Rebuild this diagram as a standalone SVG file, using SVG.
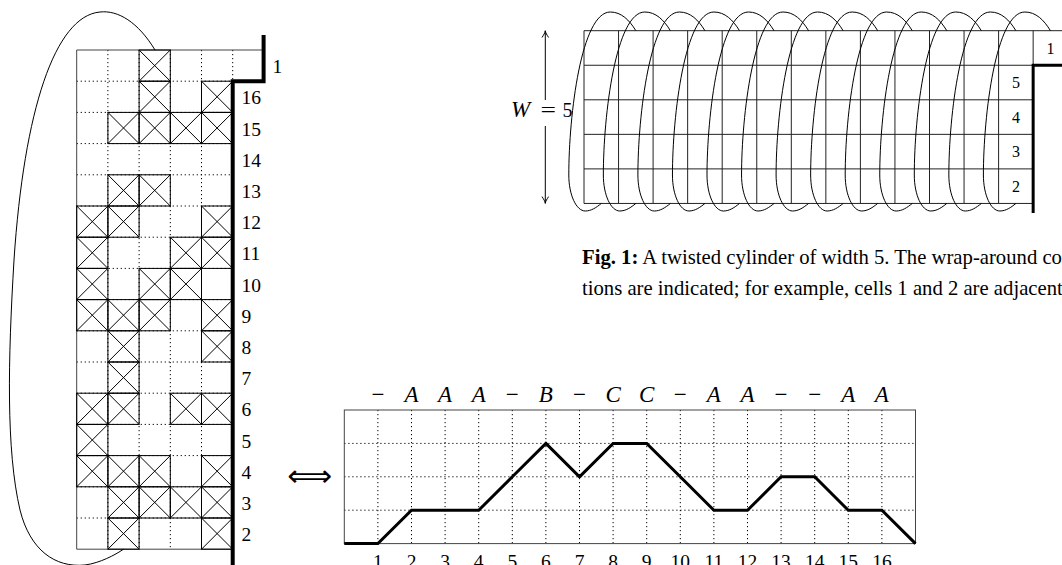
<svg xmlns="http://www.w3.org/2000/svg" width="1062" height="565" viewBox="0 0 1062 565">
<style>
.dot{stroke:#000;stroke-width:1;stroke-dasharray:1.2 2.8;fill:none}
.frame{stroke:#444;stroke-width:1;fill:none}
.thin{stroke:#222;stroke-width:1;fill:none}
.thick{stroke:#000;stroke-width:4;fill:none}
.curve{stroke:#000;stroke-width:1;fill:none}
.lbl{font-family:"Liberation Serif","Times New Roman",serif;font-size:19.5px;fill:#000}
.math{font-family:"Liberation Serif","Times New Roman",serif;font-size:23px;font-style:italic;fill:#000}
.cap{font-family:"Liberation Serif","Times New Roman",serif;font-size:20.7px;fill:#000}
</style>
<defs>
<g id="xc"><rect x="0" y="0" width="31.2" height="31.2" fill="none" stroke="#000" stroke-width="1"/><path d="M0,0L31.2,31.2M31.2,0L0,31.2" stroke="#000" stroke-width="1" fill="none"/></g>
</defs>

<g id="left-grid">
<g id="grid-dots">
<path class="dot" d="M107.9,50V549.2M139.1,50V549.2M170.3,50V549.2M201.5,50V549.2M232.7,50V81.2"/>
<path class="dot" d="M76.7,81.2H232.7M76.7,112.4H232.7M76.7,143.6H232.7M76.7,174.8H232.7M76.7,206H232.7M76.7,237.2H232.7M76.7,268.4H232.7M76.7,299.6H232.7M76.7,330.8H232.7M76.7,362H232.7M76.7,393.2H232.7M76.7,424.4H232.7M76.7,455.6H232.7M76.7,486.8H232.7M76.7,518H232.7"/>
</g>
<path class="frame" d="M263.9,50H76.7V549.2H232.7"/>
<g id="crossed-cells">
<use href="#xc" x="139.1" y="50"/>
<use href="#xc" x="139.1" y="81.2"/><use href="#xc" x="201.5" y="81.2"/>
<use href="#xc" x="107.9" y="112.4"/><use href="#xc" x="139.1" y="112.4"/><use href="#xc" x="170.3" y="112.4"/><use href="#xc" x="201.5" y="112.4"/>
<use href="#xc" x="107.9" y="174.8"/><use href="#xc" x="139.1" y="174.8"/>
<use href="#xc" x="76.7" y="206"/><use href="#xc" x="107.9" y="206"/><use href="#xc" x="201.5" y="206"/>
<use href="#xc" x="76.7" y="237.2"/><use href="#xc" x="170.3" y="237.2"/><use href="#xc" x="201.5" y="237.2"/>
<use href="#xc" x="76.7" y="268.4"/><use href="#xc" x="139.1" y="268.4"/><use href="#xc" x="170.3" y="268.4"/>
<use href="#xc" x="76.7" y="299.6"/><use href="#xc" x="107.9" y="299.6"/><use href="#xc" x="139.1" y="299.6"/><use href="#xc" x="201.5" y="299.6"/>
<use href="#xc" x="107.9" y="330.8"/><use href="#xc" x="201.5" y="330.8"/>
<use href="#xc" x="107.9" y="362"/>
<use href="#xc" x="76.7" y="393.2"/><use href="#xc" x="107.9" y="393.2"/><use href="#xc" x="170.3" y="393.2"/><use href="#xc" x="201.5" y="393.2"/>
<use href="#xc" x="76.7" y="424.4"/>
<use href="#xc" x="76.7" y="455.6"/><use href="#xc" x="107.9" y="455.6"/><use href="#xc" x="139.1" y="455.6"/><use href="#xc" x="201.5" y="455.6"/>
<use href="#xc" x="107.9" y="486.8"/><use href="#xc" x="139.1" y="486.8"/><use href="#xc" x="170.3" y="486.8"/><use href="#xc" x="201.5" y="486.8"/>
<use href="#xc" x="107.9" y="518"/><use href="#xc" x="201.5" y="518"/>
</g>
<path class="thick" d="M263.6,35V81.2H232.7V565"/>
<path class="curve" d="M155,50C138,22 118,10 100,12C55,16 24,110 14,260C8,360 6,450 20,510C30,550 55,568 85,565C100,563 115,555 123.5,549.2"/>
<g id="left-labels" class="lbl">
<text x="272.5" y="73.3">1</text>
<text x="241.5" y="104.3">16</text>
<text x="241.5" y="135.5">15</text>
<text x="241.5" y="166.7">14</text>
<text x="241.5" y="197.9">13</text>
<text x="241.5" y="229.1">12</text>
<text x="241.5" y="260.3">11</text>
<text x="241.5" y="291.5">10</text>
<text x="241.5" y="322.7">9</text>
<text x="241.5" y="353.9">8</text>
<text x="241.5" y="385.1">7</text>
<text x="241.5" y="416.3">6</text>
<text x="241.5" y="447.5">5</text>
<text x="241.5" y="478.7">4</text>
<text x="241.5" y="509.9">3</text>
<text x="241.5" y="541.1">2</text>
</g>
</g>

<text id="equiv" x="287" y="486" textLength="45" lengthAdjust="spacingAndGlyphs" style="font-family:'DejaVu Sans',sans-serif;font-size:30px">⟺</text>

<g id="cylinder">
<path class="thin" d="M584,30.7H1062M584,65.25H1033.15M584,99.8H1033.15M584,134.35H1033.15M584,168.9H1033.15M584,203.45H1033.15"/>
<path class="thin" d="M584,30.7V203.45M618.55,30.7V203.45M653.1,30.7V203.45M687.65,30.7V203.45M722.2,30.7V203.45M756.75,30.7V203.45M791.3,30.7V203.45M825.85,30.7V203.45M860.4,30.7V203.45M894.95,30.7V203.45M929.5,30.7V203.45M964.05,30.7V203.45M998.6,30.7V203.45M1033.15,30.7V65.25"/>
<path d="M1062,65.25H1033.15V213" stroke="#000" stroke-width="3" fill="none"/>
<g id="loops" class="curve">
<path d="M601.3,203.45C596.3,207.5 591.3,211 585.3,211C576.3,211 568.8,195 568.8,175C568.8,115 581.3,12 610.3,12C621.3,12 629.3,20 635.85,30.7"/>
<path d="M635.85,203.45C630.85,207.5 625.85,211 619.85,211C610.85,211 603.35,195 603.35,175C603.35,115 615.85,12 644.85,12C655.85,12 663.85,20 670.4,30.7"/>
<path d="M670.4,203.45C665.4,207.5 660.4,211 654.4,211C645.4,211 637.9,195 637.9,175C637.9,115 650.4,12 679.4,12C690.4,12 698.4,20 704.95,30.7"/>
<path d="M704.95,203.45C699.95,207.5 694.95,211 688.95,211C679.95,211 672.45,195 672.45,175C672.45,115 684.95,12 713.95,12C724.95,12 732.95,20 739.5,30.7"/>
<path d="M739.5,203.45C734.5,207.5 729.5,211 723.5,211C714.5,211 707,195 707,175C707,115 719.5,12 748.5,12C759.5,12 767.5,20 774.05,30.7"/>
<path d="M774.05,203.45C769.05,207.5 764.05,211 758.05,211C749.05,211 741.55,195 741.55,175C741.55,115 754.05,12 783.05,12C794.05,12 802.05,20 808.6,30.7"/>
<path d="M808.6,203.45C803.6,207.5 798.6,211 792.6,211C783.6,211 776.1,195 776.1,175C776.1,115 788.6,12 817.6,12C828.6,12 836.6,20 843.15,30.7"/>
<path d="M843.15,203.45C838.15,207.5 833.15,211 827.15,211C818.15,211 810.65,195 810.65,175C810.65,115 823.15,12 852.15,12C863.15,12 871.15,20 877.7,30.7"/>
<path d="M877.7,203.45C872.7,207.5 867.7,211 861.7,211C852.7,211 845.2,195 845.2,175C845.2,115 857.7,12 886.7,12C897.7,12 905.7,20 912.25,30.7"/>
<path d="M912.25,203.45C907.25,207.5 902.25,211 896.25,211C887.25,211 879.75,195 879.75,175C879.75,115 892.25,12 921.25,12C932.25,12 940.25,20 946.8,30.7"/>
<path d="M946.8,203.45C941.8,207.5 936.8,211 930.8,211C921.8,211 914.3,195 914.3,175C914.3,115 926.8,12 955.8,12C966.8,12 974.8,20 981.35,30.7"/>
<path d="M981.35,203.45C976.35,207.5 971.35,211 965.35,211C956.35,211 948.85,195 948.85,175C948.85,115 961.35,12 990.35,12C1001.35,12 1009.35,20 1015.9,30.7"/>
<path d="M1015.9,203.45C1010.9,207.5 1005.9,211 999.9,211C990.9,211 983.4,195 983.4,175C983.4,115 995.9,12 1024.9,12C1035.9,12 1043.9,20 1050.45,30.7"/>
</g>
<g id="cyl-labels" style="font-family:'Liberation Serif',serif;font-size:16px" text-anchor="middle">
<text x="1050.4" y="53.5">1</text>
<text x="1016" y="88">5</text>
<text x="1016" y="122.5">4</text>
<text x="1016" y="157">3</text>
<text x="1016" y="191.5">2</text>
</g>
<g id="width-arrow">
<path class="curve" d="M545.3,31V100M545.3,126V203.2"/>
<path class="curve" d="M542,37.5C543.6,35 545,33 545.3,30.7C545.6,33 547,35 548.6,37.5M542,196.6C543.6,199.1 545,201.1 545.3,203.4C545.6,201.1 547,199.1 548.6,196.6"/>
<text y="117.3" style="font-family:'Liberation Serif',serif;font-size:20px"><tspan x="511" font-style="italic" font-size="23px">W</tspan><tspan x="540.5" textLength="15.5" lengthAdjust="spacingAndGlyphs">=</tspan><tspan x="562.5">5</tspan></text>
</g>
</g>

<g id="caption" class="cap">
<text x="582" y="264"><tspan font-weight="bold">Fig. 1:</tspan> A twisted cylinder of width 5. The wrap-around co</text>
<text x="582" y="295">tions are indicated; for example, cells 1 and 2 are adjacent</text>
</g>

<g id="chart">
<path class="dot" d="M377.9,410V543.6M411.5,410V543.6M445.1,410V543.6M478.7,410V543.6M512.3,410V543.6M545.9,410V543.6M579.5,410V543.6M613.1,410V543.6M646.7,410V543.6M680.3,410V543.6M713.9,410V543.6M747.5,410V543.6M781.1,410V543.6M814.7,410V543.6M848.3,410V543.6M881.9,410V543.6"/>
<path class="dot" d="M344.3,443.4H915.5M344.3,476.8H915.5M344.3,510.2H915.5"/>
<rect class="frame" x="344.3" y="410" width="571.2" height="133.6"/>
<path d="M344.3,543.6L377.9,543.6L411.5,510.2L445.1,510.2L478.7,510.2L512.3,476.8L545.9,443.4L579.5,476.8L613.1,443.4L646.7,443.4L680.3,476.8L713.9,510.2L747.5,510.2L781.1,476.8L814.7,476.8L848.3,510.2L881.9,510.2L915.5,543.6" stroke="#000" stroke-width="3" fill="none"/>
<g id="chart-top" class="math" text-anchor="middle">
<text x="377.9" y="401.7" font-style="normal">−</text>
<text x="411.5" y="401.7">A</text>
<text x="445.1" y="401.7">A</text>
<text x="478.7" y="401.7">A</text>
<text x="512.3" y="401.7" font-style="normal">−</text>
<text x="545.9" y="401.7">B</text>
<text x="579.5" y="401.7" font-style="normal">−</text>
<text x="613.1" y="401.7">C</text>
<text x="646.7" y="401.7">C</text>
<text x="680.3" y="401.7" font-style="normal">−</text>
<text x="713.9" y="401.7">A</text>
<text x="747.5" y="401.7">A</text>
<text x="781.1" y="401.7" font-style="normal">−</text>
<text x="814.7" y="401.7" font-style="normal">−</text>
<text x="848.3" y="401.7">A</text>
<text x="881.9" y="401.7">A</text>
</g>
<g id="chart-bottom" class="lbl" text-anchor="middle">
<text x="377.9" y="568">1</text>
<text x="411.5" y="568">2</text>
<text x="445.1" y="568">3</text>
<text x="478.7" y="568">4</text>
<text x="512.3" y="568">5</text>
<text x="545.9" y="568">6</text>
<text x="579.5" y="568">7</text>
<text x="613.1" y="568">8</text>
<text x="646.7" y="568">9</text>
<text x="680.3" y="568">10</text>
<text x="713.9" y="568">11</text>
<text x="747.5" y="568">12</text>
<text x="781.1" y="568">13</text>
<text x="814.7" y="568">14</text>
<text x="848.3" y="568">15</text>
<text x="881.9" y="568">16</text>
</g>
</g>
</svg>
